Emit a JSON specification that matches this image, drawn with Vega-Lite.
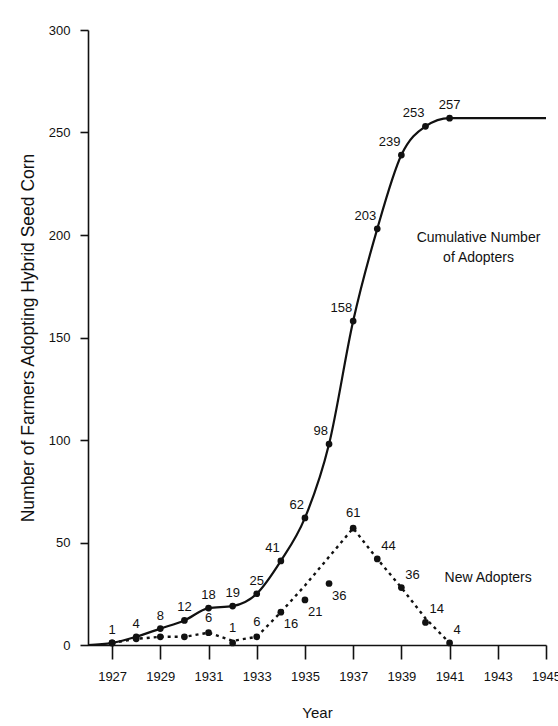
{
  "$schema": "https://vega.github.io/schema/vega-lite/v6.json",
  "width": 458,
  "height": 615,
  "autosize": "none",
  "padding": {"left": 88, "top": 30, "right": 12, "bottom": 81},
  "background": "white",
  "config": {
    "view": {"stroke": null},
    "font": "Liberation Sans",
    "text": {"font": "Liberation Sans", "fontSize": 13, "color": "#111"},
    "axis": {
      "grid": false,
      "domainColor": "#111",
      "domainWidth": 1.6,
      "tickColor": "#111",
      "tickWidth": 1.6,
      "labelColor": "#111",
      "titleColor": "#111",
      "labelFont": "Liberation Sans",
      "titleFont": "Liberation Sans",
      "titleFontWeight": "normal",
      "labelFontSize": 13
    }
  },
  "datasets": {
    "rows": [
      {"year": 1926, "cumulative": 0, "new": null, "trend": null, "newLabel": null},
      {"year": 1927, "cumulative": 1, "new": 1, "trend": 1, "newLabel": "1"},
      {"year": 1928, "cumulative": 4, "new": 3, "trend": 3, "newLabel": "3"},
      {"year": 1929, "cumulative": 8, "new": 4, "trend": 4, "newLabel": "4"},
      {"year": 1930, "cumulative": 12, "new": 4, "trend": 4, "newLabel": "4"},
      {"year": 1931, "cumulative": 18, "new": 6, "trend": 6, "newLabel": "6"},
      {"year": 1932, "cumulative": 19, "new": 1, "trend": 2, "newLabel": "1"},
      {"year": 1933, "cumulative": 25, "new": 4, "trend": 4, "newLabel": "6"},
      {"year": 1934, "cumulative": 41, "new": 16, "trend": 16, "newLabel": "16"},
      {"year": 1935, "cumulative": 62, "new": 22, "trend": 29, "newLabel": "21"},
      {"year": 1936, "cumulative": 98, "new": 30, "trend": 43, "newLabel": "36"},
      {"year": 1937, "cumulative": 158, "new": 57, "trend": 57, "newLabel": "61"},
      {"year": 1938, "cumulative": 203, "new": 42, "trend": 42, "newLabel": "44"},
      {"year": 1939, "cumulative": 239, "new": 28, "trend": 28, "newLabel": "36"},
      {"year": 1940, "cumulative": 253, "new": 11, "trend": 13, "newLabel": "14"},
      {"year": 1941, "cumulative": 257, "new": 1, "trend": 1, "newLabel": "4"},
      {"year": 1942, "cumulative": 257, "new": null, "trend": null, "newLabel": null},
      {"year": 1945, "cumulative": 257, "new": null, "trend": null, "newLabel": null}
    ],
    "notes": [
      {"year": 1942.2, "value": 198.5, "note": "Cumulative Number\nof Adopters"},
      {"year": 1942.6, "value": 32.5, "note": "New Adopters"}
    ]
  },
  "encoding": {
    "x": {
      "field": "year",
      "type": "quantitative",
      "scale": {"domain": [1926, 1945], "nice": false, "zero": false},
      "axis": {
        "title": "Year",
        "titleFontSize": 15,
        "titlePadding": 22,
        "values": [1927, 1929, 1931, 1933, 1935, 1937, 1939, 1941, 1943, 1945],
        "format": "d",
        "tickSize": 14,
        "labelPadding": 11,
        "labelFlush": false,
        "labelOverlap": false
      }
    },
    "y": {
      "type": "quantitative",
      "scale": {"domain": [0, 300], "nice": false},
      "axis": {
        "title": "Number of Farmers Adopting Hybrid Seed Corn",
        "titleFontSize": 17.5,
        "titlePadding": 11,
        "values": [0, 50, 100, 150, 200, 250, 300],
        "tickSize": 8,
        "labelPadding": 10
      }
    }
  },
  "layer": [
    {
      "data": {"name": "rows"},
      "mark": {"type": "line", "interpolate": "monotone", "color": "#111", "strokeWidth": 2.2},
      "encoding": {"y": {"field": "cumulative", "type": "quantitative"}}
    },
    {
      "data": {"name": "rows"},
      "transform": [{"filter": "datum.trend != null"}],
      "mark": {"type": "line", "color": "#111", "strokeWidth": 2.4, "strokeDash": [3, 4]},
      "encoding": {"y": {"field": "trend", "type": "quantitative"}}
    },
    {
      "data": {"name": "rows"},
      "transform": [{"filter": "datum.year >= 1927 && datum.year <= 1941"}],
      "mark": {"type": "point", "filled": true, "color": "#111", "size": 45, "opacity": 1},
      "encoding": {"y": {"field": "cumulative", "type": "quantitative"}}
    },
    {
      "data": {"name": "rows"},
      "transform": [{"filter": "datum.new != null"}],
      "mark": {"type": "point", "filled": true, "color": "#111", "size": 45, "opacity": 1},
      "encoding": {"y": {"field": "new", "type": "quantitative"}}
    },
    {
      "data": {"name": "rows"},
      "transform": [{"filter": "(datum.year >= 1927 && datum.year <= 1933) || datum.year == 1941"}],
      "mark": {"type": "text", "align": "center", "baseline": "bottom", "dy": -6},
      "encoding": {"y": {"field": "cumulative", "type": "quantitative"}, "text": {"field": "cumulative", "type": "quantitative"}}
    },
    {
      "data": {"name": "rows"},
      "transform": [{"filter": "datum.year >= 1934 && datum.year <= 1940"}],
      "mark": {"type": "text", "align": "right", "baseline": "bottom", "dx": -1, "dy": -6},
      "encoding": {"y": {"field": "cumulative", "type": "quantitative"}, "text": {"field": "cumulative", "type": "quantitative"}}
    },
    {
      "data": {"name": "rows"},
      "transform": [{"filter": "(datum.year >= 1931 && datum.year <= 1933) || datum.year == 1937"}],
      "mark": {"type": "text", "align": "center", "baseline": "bottom", "dy": -8},
      "encoding": {"y": {"field": "new", "type": "quantitative"}, "text": {"field": "newLabel", "type": "nominal"}}
    },
    {
      "data": {"name": "rows"},
      "transform": [{"filter": "datum.year >= 1934 && datum.year <= 1936"}],
      "mark": {"type": "text", "align": "left", "baseline": "top", "dx": 3, "dy": 6},
      "encoding": {"y": {"field": "new", "type": "quantitative"}, "text": {"field": "newLabel", "type": "nominal"}}
    },
    {
      "data": {"name": "rows"},
      "transform": [{"filter": "datum.year >= 1938 && datum.year <= 1941"}],
      "mark": {"type": "text", "align": "left", "baseline": "bottom", "dx": 4, "dy": -6},
      "encoding": {"y": {"field": "new", "type": "quantitative"}, "text": {"field": "newLabel", "type": "nominal"}}
    },
    {
      "data": {"name": "notes"},
      "mark": {"type": "text", "align": "center", "baseline": "middle", "fontSize": 14, "lineBreak": "\n", "lineHeight": 20},
      "encoding": {"y": {"field": "value", "type": "quantitative"}, "text": {"field": "note", "type": "nominal"}}
    }
  ]
}
